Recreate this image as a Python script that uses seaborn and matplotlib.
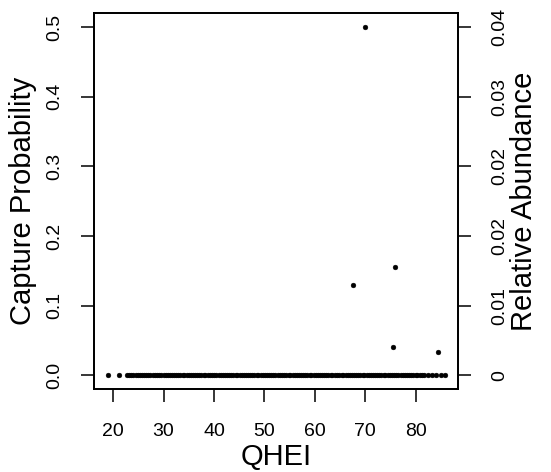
import pandas as pd
import matplotlib
matplotlib.use("Agg")
import matplotlib.pyplot as plt
import seaborn as sns

# points with a non-zero capture probability
hit_qhei = [67.5, 70.0, 76.0, 75.6, 84.5]
hit_prob = [0.130, 0.500, 0.155, 0.041, 0.033]

# sites where the species was never captured (probability 0)
zero_qhei = [19.0, 21.1, 22.7, 23.2, 23.6, 24.0, 24.5, 24.9, 25.3, 25.8, 26.1, 26.6,
             27.0, 27.4, 27.9, 28.3, 28.6, 29.1, 29.5, 30.0, 30.4, 30.8, 31.2, 31.7,
             32.0, 32.5, 32.9, 33.3, 33.8, 34.1, 34.6, 35.0, 35.4, 35.9, 36.2, 36.7,
             37.1, 37.5, 38.0, 38.3, 38.8, 39.2, 39.6, 40.1, 40.4, 40.9, 41.3, 41.7,
             42.2, 42.5, 43.0, 43.4, 43.8, 44.3, 44.6, 45.1, 45.5, 45.9, 46.4, 46.7,
             47.2, 47.6, 48.0, 48.5, 48.8, 49.3, 49.7, 50.1, 50.6, 50.9, 51.4, 51.8,
             52.2, 52.7, 53.0, 53.5, 53.9, 54.3, 54.8, 55.1, 55.6, 56.0, 56.4, 56.9,
             57.2, 57.7, 58.1, 58.5, 59.0, 59.3, 59.8, 60.2, 60.6, 61.1, 61.4, 61.9,
             62.3, 62.7, 63.2, 63.5, 64.0, 64.4, 64.8, 65.3, 65.6, 66.1, 66.5, 66.9,
             67.4, 67.7, 68.2, 68.6, 69.0, 69.5, 69.8, 70.3, 70.7, 71.1, 71.6, 71.9,
             72.4, 72.8, 73.2, 73.7, 74.0, 74.5, 74.9, 75.3, 75.8, 76.1, 76.6, 77.0,
             77.4, 77.9, 78.2, 78.7, 79.1, 79.5, 80.0, 80.3, 80.8, 81.2, 81.7, 82.4,
             83.3, 84.1, 85.0, 85.8]
zero_prob = [0.0] * len(zero_qhei)

x_ticks = [20, 30, 40, 50, 60, 70, 80]
left_ticks = [0.0, 0.1, 0.2, 0.3, 0.4, 0.5]
left_labels = ["0.0", "0.1", "0.2", "0.3", "0.4", "0.5"]
right_labels = ["0", "0.01", "0.02", "0.02", "0.03", "0.04"]

df = pd.DataFrame({
    "QHEI": zero_qhei + hit_qhei,
    "prob": zero_prob + hit_prob,
})

sns.set_style("ticks")
plt.rcParams["font.family"] = ["Liberation Sans", "DejaVu Sans"]

fig = plt.figure(figsize=(5.51, 4.72), dpi=100)
ax = fig.add_axes([0.1715, 0.1752, 0.6606, 0.7966])

sns.scatterplot(data=df, x="QHEI", y="prob", ax=ax, color="black",
                s=12, edgecolor="black", linewidth=0.3, legend=False)

ax.set_xlim(16.3, 88.5)
ax.set_ylim(-0.02, 0.52)
ax.set_xticks(x_ticks)
ax.set_xticklabels([str(t) for t in x_ticks])
ax.set_yticks(left_ticks)
ax.set_yticklabels(left_labels, rotation=90, va="center")
ax.tick_params(axis="x", labelsize=14, length=9.5, width=1.1, pad=15,
               color="black", labelcolor="black")
ax.tick_params(axis="y", labelsize=14, length=9.5, width=1.1, pad=13,
               color="black", labelcolor="black")
ax.set_xlabel("QHEI", fontsize=21, labelpad=2, color="black")
ax.set_ylabel("Capture Probability", fontsize=21, labelpad=7, color="black")
for sp in ax.spines.values():
    sp.set_linewidth(1.3)
    sp.set_color("black")

ax2 = ax.twinx()
ax2.set_ylim(ax.get_ylim())
ax2.set_yticks(left_ticks)
ax2.set_yticklabels(right_labels, rotation=90, va="center")
ax2.tick_params(axis="y", labelsize=14, length=9.5, width=1.1, pad=14,
                color="black", labelcolor="black")
ax2.set_ylabel("Relative Abundance", fontsize=21, labelpad=1, color="black")
for sp in ax2.spines.values():
    sp.set_linewidth(1.3)
    sp.set_color("black")

fig.savefig("out.png", dpi=100)
